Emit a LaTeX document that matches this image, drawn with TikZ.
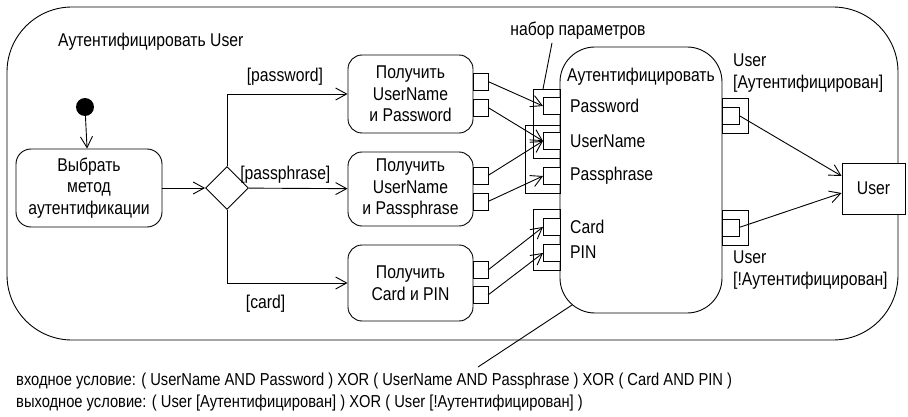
\documentclass[tikz,border=0pt]{standalone}
\usepackage{fontspec}
\setmainfont{Liberation Sans}[FakeStretch=0.85]
\usepackage{tikz}
\usetikzlibrary{arrows.meta,positioning,shapes.geometric}
\tikzset{
  auth frame/.style={draw, line width=0.9pt, rounded corners=65pt},
  auth action/.style={draw, rounded corners=14pt, line width=0.9pt, minimum width=125pt, align=center, inner sep=0pt},
  auth pin/.style={draw, fill=white, line width=0.9pt, minimum width=17pt, minimum height=17pt, inner sep=0pt, outer sep=0pt},
  auth set/.style={draw, line width=0.9pt, inner sep=0pt, outer sep=0pt},
  auth edge/.style={-{Straight Barb[length=11pt,width=12pt]}, line width=0.9pt},
  auth text/.style={inner sep=0pt, align=left},
  auth guard/.style={inner sep=0pt},
}

\begin{document}
\begin{tikzpicture}[x=1pt, y=-1pt, font=\fontsize{18.5}{21.5}\selectfont]
  \useasboundingbox (0,0) rectangle (908,417);
  \draw[auth frame] (7,7) rectangle (898,340);
  \node[auth text, anchor=west] (frameTitle) at (58,42) {Аутентифицировать User};

  % choice of the method
  \node[circle, fill=black, minimum size=18pt, inner sep=0pt] (start) at (85,107) {};
  \node[auth action, rounded corners=15pt, minimum width=146pt, minimum height=78pt] (choose) at (89,188) {Выбрать\\метод\\аутентификации};
  \node[draw, diamond, line width=0.9pt, minimum size=43pt, inner sep=0pt] (decide) at (227,188) {};

  \node[auth action, minimum height=78pt] (getPassword) at (410.5,94) {Получить\\UserName\\и Password};
  \node[auth action, minimum height=74pt] (getPhrase) at (410.5,189) {Получить\\UserName\\и Passphrase};
  \node[auth action, minimum height=76pt] (getCard) at (410.5,283) {Получить\\Card и PIN};

  \node[auth pin, minimum width=15pt] (getPasswordA) at (480.5,81.5) {};
  \node[auth pin, minimum width=15pt] (getPasswordB) at (480.5,107.5) {};
  \node[auth pin, minimum width=15pt] (getPhraseA) at (480.5,175.5) {};
  \node[auth pin, minimum width=15pt] (getPhraseB) at (480.5,201.5) {};
  \node[auth pin, minimum width=15pt] (getCardA) at (480.5,270) {};
  \node[auth pin, minimum width=15pt] (getCardB) at (480.5,295) {};

  % the authenticating action with its parameter sets
  \node[draw, rounded corners=35pt, line width=0.9pt, minimum width=162pt, minimum height=266pt] (auth) at (641,180) {};
  \node[auth text, anchor=west] (authName) at (567,77) {Аутентифицировать};

  \node[auth set, minimum width=27pt, minimum height=69pt] (setPassword) at (546.5,123.5) {};
  \node[auth set, minimum width=35pt, minimum height=68pt] (setPhrase) at (542.5,159) {};
  \node[auth set, minimum width=27pt, minimum height=61pt] (setCard) at (546.5,239.5) {};
  \node[auth pin] (inPassword) at (551.5,106) {};
  \node[auth pin] (inUser) at (551.5,141) {};
  \node[auth pin] (inPhrase) at (551.5,176) {};
  \node[auth pin] (inCard) at (551.5,227) {};
  \node[auth pin] (inPin) at (551.5,253) {};
  \node[auth text, anchor=west] (lblPassword) at (570,106) {Password};
  \node[auth text, anchor=west] (lblUser) at (570,141) {UserName};
  \node[auth text, anchor=west] (lblPhrase) at (570,176) {Passphrase};
  \node[auth text, anchor=west] (lblCard) at (570,227) {Card};
  \node[auth text, anchor=west] (lblPin) at (570,252) {PIN};

  \node[auth set, minimum width=26pt, minimum height=35pt] (setOk) at (735,115.5) {};
  \node[auth set, minimum width=26pt, minimum height=35pt] (setNo) at (735,227.5) {};
  \node[auth pin] (outOk) at (730.5,115.5) {};
  \node[auth pin] (outNo) at (730.5,227.5) {};
  \node[auth text, anchor=west] (lblOk) at (733,73) {User\\{[}Аутентифицирован{]}};
  \node[auth text, anchor=west] (lblNo) at (733,270) {User\\{[}!Аутентифицирован{]}};

  \node[draw, fill=white, line width=0.9pt, minimum width=63pt, minimum height=51pt] (user) at (873.5,188.5) {User};

  \node[auth text] (setNote) at (578,31) {набор параметров};
  \draw[line width=0.9pt] ([xshift=-26pt, yshift=-3pt]setNote.south) -- ([xshift=10pt]setPassword.north west);

  % flows
  \draw[auth edge] (start) -- (choose);
  \draw[auth edge] (choose) -- (decide);
  \draw[auth edge] (decide.north) |- node[pos=0.74, above=8pt, auth guard] {[password]} (getPassword);
  \draw[auth edge] (decide) -- node[pos=0.37, above=5pt, auth guard] {[passphrase]} (getPhrase);
  \draw[auth edge] (decide.south) |- node[pos=0.66, below=12pt, auth guard] {[card]} (getCard);

  \draw[auth edge] (getPasswordA.east) -- (inPassword.west);
  \draw[auth edge] (getPasswordB.east) -- (inUser.west);
  \draw[auth edge] (getPhraseA.east) -- (inUser.west);
  \draw[auth edge] (getPhraseB.east) -- (inPhrase.west);
  \draw[auth edge] (getCardA.east) -- (inCard.west);
  \draw[auth edge] (getCardB.east) -- (inPin.west);
  \draw[auth edge] (outOk.east) -- ([yshift=12.5pt]user.west);
  \draw[auth edge] (outNo.east) -- ([yshift=-4.5pt]user.west);

  % pre- and postconditions
  \coordinate (noteFrom) at (572,305);
  \coordinate (noteTo) at (478,367);
  \draw[line width=0.9pt] (noteFrom) -- (noteTo);
  \node[auth text, anchor=west, font=\fontsize{17.3}{22}\selectfont] (conditions) at (16,392) {входное условие: ( UserName AND Password ) XOR ( UserName AND Passphrase ) XOR ( Card AND PIN )\\выходное условие: ( User [Аутентифицирован] ) XOR ( User [!Аутентифицирован] )};
\end{tikzpicture}
\end{document}
